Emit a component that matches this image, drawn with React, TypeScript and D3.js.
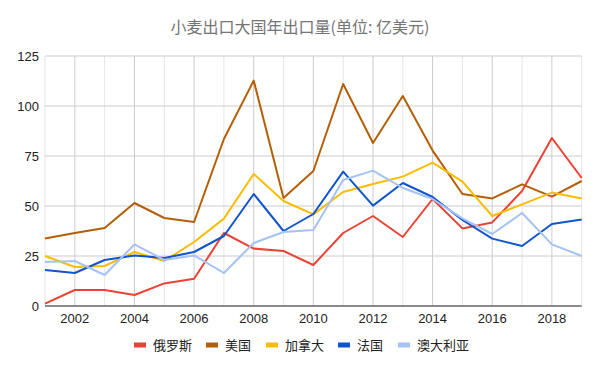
import React from "react";
import * as d3 from "d3";

const years = [2001,2002,2003,2004,2005,2006,2007,2008,2009,2010,2011,2012,2013,2014,2015,2016,2017,2018,2019];
const russia = [1.2,8,8,5.5,11.3,13.6,36.5,28.7,27.5,20.5,36.5,45,34.5,53.5,38.8,41.8,57.5,84,64];
const usa = [33.7,36.5,39,51.5,44,42,83.5,112.7,54,67.5,111,81.5,105,77.7,56,53.8,60.8,54.7,62.5];
const canada = [25,19.5,20,27,22.5,32,43.7,66,52.5,45.8,57,61,64.7,71.7,62.2,45,50.8,56.7,53.7];
const france = [18,16.5,23,25.3,24,27,35,56,37.5,46,67.2,50.2,61.5,54.5,43,33.7,30,41,43.3];
const australia = [22,22.5,15.5,30.8,23,25.3,16.5,31.5,37,38,63,67.7,59,53.5,43.8,36,46.5,30.8,25];

const seriesNames = ["俄罗斯", "美国", "加拿大", "法国", "澳大利亚"];
const seriesData = [russia, usa, canada, france, australia];
const colors = ["#ea4335", "#b45f06", "#fbbc04", "#1155cc", "#a4c2f4"];
const yTicks = [0, 25, 50, 75, 100, 125];
const xTicks = [2002, 2004, 2006, 2008, 2010, 2012, 2014, 2016, 2018];
const title = "小麦出口大国年出口量(单位: 亿美元)";

const W = 600, H = 371;
const left = 45, right = 581.7, top = 56, bottom = 306;

export default function App() {
  const x = d3.scaleLinear().domain([2001, 2019]).range([left, right]);
  const y = d3.scaleLinear().domain([0, 125]).range([bottom, top]);
  const line = d3.line<number>().x((_, i) => x(years[i])).y((d) => y(d));
  const font = "Arial, 'Liberation Sans', 'Noto Sans CJK SC', sans-serif";
  const legendX = [134, 206, 266, 338, 398];
  return (
    <svg width={W} height={H} style={{ position: "absolute", left: 0, top: 0, background: "#fff" }}>
      <rect x={0} y={0} width={W} height={H} fill="#fff" />
      <text x={W / 2} y={33} textAnchor="middle" fontSize={16} fill="#757575" fontFamily="'Noto Sans CJK SC', sans-serif">{title}</text>
      {years.map((yr) => (
        <line key={"v" + yr} x1={x(yr)} x2={x(yr)} y1={top} y2={bottom}
          stroke={yr % 2 === 0 ? "#cccccc" : "#e6e6e6"} strokeWidth={1} />
      ))}
      {yTicks.map((t) => (
        <line key={"h" + t} x1={left} x2={right} y1={y(t)} y2={y(t)} stroke="#cccccc" strokeWidth={1} />
      ))}
      <line x1={left} x2={right} y1={bottom} y2={bottom} stroke="#333333" strokeWidth={1} />
      {yTicks.map((t) => (
        <text key={"yl" + t} x={39} y={y(t)} dy="0.35em" textAnchor="end" fontSize={13} fill="#222" fontFamily={font}>{t}</text>
      ))}
      {xTicks.map((t) => (
        <text key={"xl" + t} x={x(t)} y={323} textAnchor="middle" fontSize={13} fill="#222" fontFamily={font}>{t}</text>
      ))}
      {seriesData.map((s, i) => (
        <path key={"s" + i} d={line(s) || ""} fill="none" stroke={colors[i]} strokeWidth={2} strokeLinejoin="round" />
      ))}
      {seriesNames.map((n, i) => (
        <g key={"lg" + i}>
          <rect x={legendX[i]} y={342.5} width={12} height={5} fill={colors[i]} />
          <text x={legendX[i] + 19} y={345} dy="0.35em" fontSize={13} fill="#222" fontFamily="'Noto Sans CJK SC', sans-serif">{n}</text>
        </g>
      ))}
    </svg>
  );
}
